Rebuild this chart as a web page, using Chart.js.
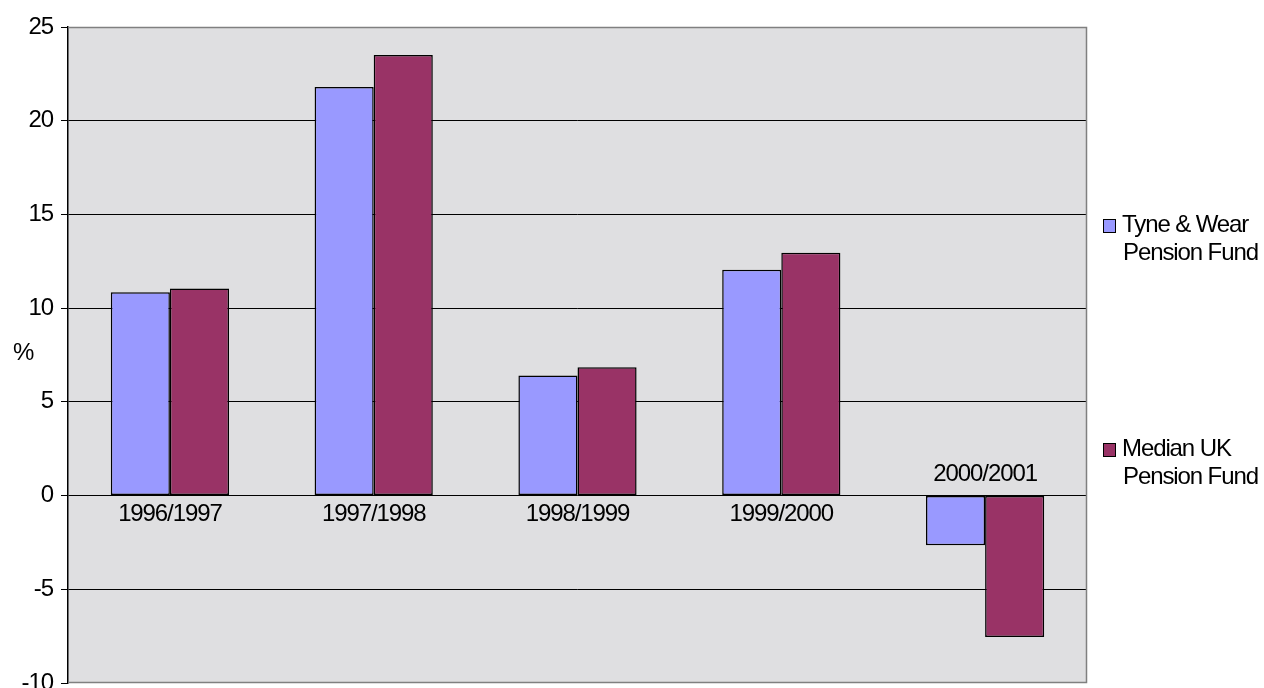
<!DOCTYPE html>
<html>
<head>
<meta charset="utf-8">
<script src="https://cdn.jsdelivr.net/npm/chart.js@4.4.1/dist/chart.umd.min.js"></script>
<style>
    html, body { margin: 0; padding: 0; background: #fff; }
    #wrap { width: 1264px; height: 688px; position: relative; }
</style>
</head>
<body>
<div id="wrap"><canvas id="grafico"></canvas></div>
<script>
const categorias = ["1996/1997", "1997/1998", "1998/1999", "1999/2000", "2000/2001"];
const tyneWear = [10.85, 21.8, 6.4, 12.05, -2.65];
const medianaUK = [11.05, 23.5, 6.85, 12.95, -7.55];
const nombresSeries = [["Tyne & Wear", "Pension Fund"], ["Median UK", "Pension Fund"]];
const ticksY = [-10, -5, 0, 5, 10, 15, 20, 25];

const FUENTE = "'Liberation Sans', Arial, sans-serif";
const colorAzul = "#9999ff";
const colorGranate = "#993366";

// Fondo gris del area de trazado y borde gris (el eje izquierdo es negro).
const fondoPlugin = {
    id: "fondo",
    beforeDraw(chart) {
        const { ctx, chartArea: a } = chart;
        ctx.letterSpacing = "-1.1px";
        ctx.save();
        ctx.fillStyle = "#dfdfe1";
        ctx.fillRect(a.left, a.top, a.right - a.left, a.bottom - a.top);
        ctx.restore();
    },
    afterDatasetsDraw(chart) {
        const { ctx, chartArea: a } = chart;
        ctx.save();
        ctx.strokeStyle = "#808080";
        ctx.lineWidth = 1.5;
        ctx.beginPath();
        ctx.moveTo(a.left, a.top + 0.5);
        ctx.lineTo(a.right - 0.5, a.top + 0.5);
        ctx.lineTo(a.right - 0.5, a.bottom - 0.5);
        ctx.lineTo(a.left, a.bottom - 0.5);
        ctx.stroke();
        ctx.restore();
    }
};

// Etiquetas de categoria junto al eje cero, leyenda y titulo "%".
const textosPlugin = {
    id: "textos",
    afterDraw(chart) {
        const { ctx } = chart;
        const x = chart.scales.x;
        const y = chart.scales.y;
        const cero = y.getPixelForValue(0);
        ctx.save();
        ctx.fillStyle = "#000";
        ctx.font = `24px ${FUENTE}`;
        ctx.textAlign = "center";
        ctx.textBaseline = "middle";
        categorias.forEach((cat, i) => {
            const negativo = tyneWear[i] < 0 && medianaUK[i] < 0;
            const py = negativo ? cero - 21 : cero + 19;
            ctx.fillText(cat, x.getPixelForValue(i), py);
        });

        ctx.fillText("%", 23, 353);

        const colores = [colorAzul, colorGranate];
        const filas = [225, 449];
        ctx.textAlign = "left";
        nombresSeries.forEach((lineas, i) => {
            const fy = filas[i];
            ctx.fillStyle = colores[i];
            ctx.fillRect(1103, fy - 6, 13, 14);
            ctx.strokeStyle = "#000";
            ctx.lineWidth = 1;
            ctx.strokeRect(1103.5, fy - 5.5, 12, 13);
            ctx.fillStyle = "#000";
            ctx.fillText(lineas[0], 1122, fy);
            ctx.fillText(lineas[1], 1123, fy + 28);
        });
        ctx.restore();
    }
};

new Chart(document.querySelector("#grafico"), {
    type: "bar",
    data: {
        labels: categorias,
        datasets: [
            {
                label: nombresSeries[0].join(" "),
                data: tyneWear,
                backgroundColor: colorAzul,
                borderColor: "#000",
                borderWidth: 1.5,
                borderSkipped: false
            },
            {
                label: nombresSeries[1].join(" "),
                data: medianaUK,
                backgroundColor: colorGranate,
                borderColor: "#000",
                borderWidth: 1.5,
                borderSkipped: false
            }
        ]
    },
    options: {
        responsive: true,
        maintainAspectRatio: false,
        animation: false,
        categoryPercentage: 0.58,
        barPercentage: 1.0,
        layout: { padding: { left: 0, right: 177, top: 27, bottom: 5 } },
        plugins: {
            legend: { display: false },
            tooltip: { enabled: false }
        },
        scales: {
            x: { display: false },
            y: {
                min: -10,
                max: 25,
                afterBuildTicks(scale) {
                    scale.ticks = ticksY.map((v) => ({ value: v }));
                },
                afterFit(scale) {
                    scale.width = 68;
                    scale.paddingTop = 0;
                    scale.paddingBottom = 0;
                },
                ticks: {
                    color: "#000",
                    padding: 8,
                    font: { family: FUENTE, size: 24 }
                },
                grid: {
                    color: (c) => (c.tick && (c.tick.value === 25 || c.tick.value === -10) ? "rgba(0,0,0,0)" : "#000"),
                    tickColor: "#000",
                    tickLength: 7,
                    lineWidth: 1
                },
                border: { display: true, color: "#000", width: 1.5 }
            }
        }
    },
    plugins: [fondoPlugin, textosPlugin]
});
</script>
</body>
</html>
